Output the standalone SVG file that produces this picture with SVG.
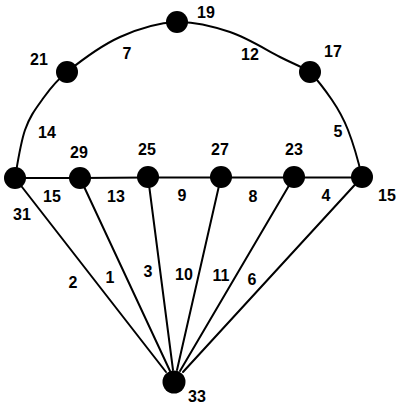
<svg xmlns="http://www.w3.org/2000/svg" width="396" height="407" viewBox="0 0 396 407">
<style>
.e{fill:none;stroke:#000;stroke-width:2;stroke-linecap:round}
.n{fill:#000}
text{font-family:"Liberation Sans",Arial,sans-serif;font-weight:bold;font-size:16px;fill:#000;text-anchor:middle}
</style>
<rect width="396" height="407" fill="#fff"/>
<g id="connectors">
<path class="e" d="M15,178 C17,166.3 20.5,143 25,130 C29.5,117 35,109.7 42,100 C49,90.3 54,82.5 67,72"/>
<path class="e" d="M67,72 C80,61.5 101.8,45.3 120,37 C138.2,28.7 157.7,22.8 177,22"/>
<path class="e" d="M177,22 C194.3,21.2 212.7,26.2 230,32 C247.3,37.8 266.8,50.2 280,57 C293.2,63.8 300.3,65.8 310,72"/>
<path class="e" d="M310,72 C317.7,80.2 325.5,90.5 332,100 C338.5,109.5 343,117.2 348,130 C353,142.8 359.3,165.3 362,177"/>
<line class="e" x1="15" y1="178" x2="80" y2="178"/>
<line class="e" x1="80" y1="178" x2="148" y2="177.5"/>
<line class="e" x1="148" y1="177.5" x2="221" y2="177.5"/>
<line class="e" x1="221" y1="177.5" x2="294" y2="177.5"/>
<line class="e" x1="294" y1="177.5" x2="362" y2="177.5"/>
<line class="e" x1="15" y1="178" x2="166" y2="372"/>
<line class="e" x1="80" y1="178" x2="170" y2="371"/>
<line class="e" x1="148" y1="177" x2="173" y2="370"/>
<line class="e" x1="221" y1="177" x2="177" y2="370"/>
<line class="e" x1="294" y1="177" x2="180" y2="371"/>
<line class="e" x1="362" y1="177" x2="183" y2="372"/>
</g>
<g id="edge-labels">
<text x="47" y="138">14</text>
<text x="127" y="59">7</text>
<text x="250" y="60">12</text>
<text x="338" y="137">5</text>
<text x="52" y="202">15</text>
<text x="116" y="202">13</text>
<text x="182" y="201">9</text>
<text x="253" y="202">8</text>
<text x="326" y="201">4</text>
<text x="73" y="288">2</text>
<text x="110" y="283">1</text>
<text x="148" y="277">3</text>
<text x="184" y="280">10</text>
<text x="221" y="281">11</text>
<text x="252" y="285">6</text>
</g>
<g id="n31"><circle class="n" cx="15" cy="178" r="11"/><text x="22" y="220">31</text></g>
<g id="n29"><circle class="n" cx="80" cy="178" r="11"/><text x="79" y="158">29</text></g>
<g id="n25"><circle class="n" cx="148" cy="177" r="11"/><text x="147" y="155">25</text></g>
<g id="n27"><circle class="n" cx="221" cy="177" r="11"/><text x="220" y="155">27</text></g>
<g id="n23"><circle class="n" cx="294" cy="177" r="11"/><text x="294" y="155">23</text></g>
<g id="n15"><circle class="n" cx="362" cy="177" r="11"/><text x="387" y="201">15</text></g>
<g id="n21"><circle class="n" cx="67" cy="72" r="11"/><text x="39" y="65">21</text></g>
<g id="n19"><circle class="n" cx="177" cy="22" r="11"/><text x="206" y="18">19</text></g>
<g id="n17"><circle class="n" cx="310" cy="72" r="11"/><text x="333" y="57">17</text></g>
<g id="n33"><circle class="n" cx="174" cy="382" r="11.5"/><text x="197" y="402">33</text></g>
</svg>
